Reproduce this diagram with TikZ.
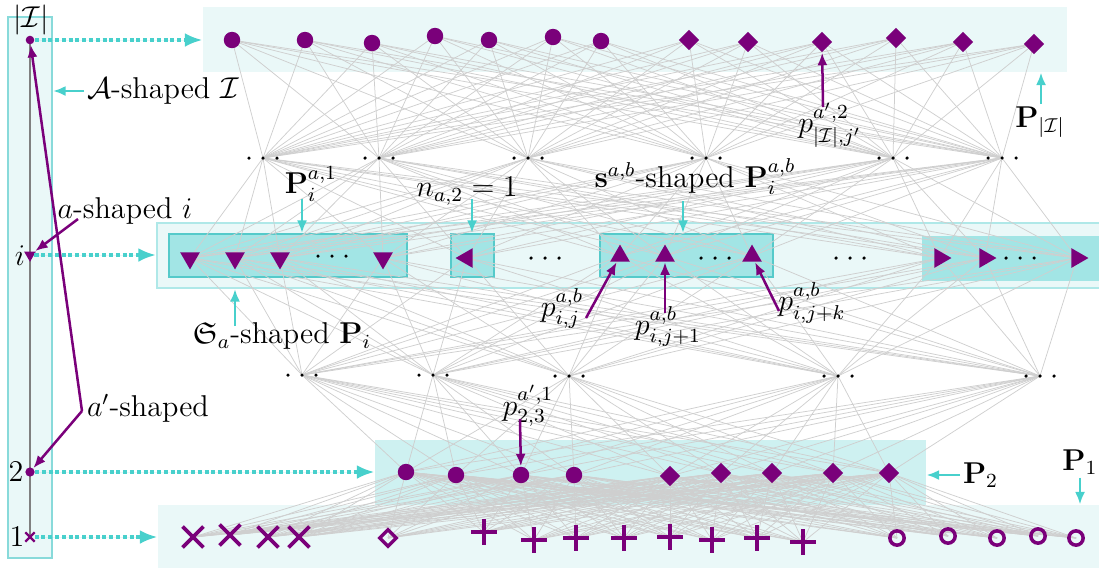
\documentclass[tikz,border=0pt]{standalone}
\usepackage{amsmath}
\usepackage{amssymb}
\usepackage{tikz}
\usetikzlibrary{arrows.meta,positioning,shapes.geometric,shapes.misc,fit,calc}
\definecolor{mkpurple} {RGB}{122,  0,122}
\definecolor{tealarr}  {RGB}{ 72,208,204}
\definecolor{rowlight} {RGB}{234,248,248}
\definecolor{rowmid}   {RGB}{206,241,241}
\definecolor{rowdark}  {RGB}{162,229,229}
\definecolor{bordark}  {RGB}{ 85,202,202}
\definecolor{borlight} {RGB}{175,232,232}
\pgfdeclarelayer{bg}
\pgfdeclarelayer{mid}
\pgfsetlayers{bg,mid,main}
\tikzset{
  mkcirc/.style={circle,fill=mkpurple,inner sep=0pt,minimum size=0.23cm},
  mkdiam/.style={diamond,fill=mkpurple,inner sep=0pt,minimum size=0.29cm},
  mktri/.style={regular polygon,regular polygon sides=3,fill=mkpurple,
                inner sep=0pt,minimum size=0.32cm},
  mkdown/.style={mktri,shape border rotate=180},
  mkleft/.style={mktri,shape border rotate=90},
  mkright/.style={mktri,shape border rotate=-90},
  mkup/.style={mktri},
  mkcross/.style={cross out,draw=mkpurple,line width=1.5pt,inner sep=0pt,
                  minimum size=0.24cm},
  mkplus/.style={mkcross,rotate=45,minimum size=0.2cm},
  mkodiam/.style={diamond,draw=mkpurple,line width=1.3pt,inner sep=0pt,
                  minimum size=0.25cm},
  mkocirc/.style={circle,draw=mkpurple,line width=1.4pt,inner sep=0pt,
                  minimum size=0.2cm},
  dotn/.style={circle,fill=black,inner sep=0pt,minimum size=1.4pt},
  lnk/.style={draw=gray!38,line width=0.3pt},
  axline/.style={draw=gray,line width=0.8pt},
  lightbox/.style={fill=rowlight,inner sep=0pt},
  midbox/.style={fill=rowmid,inner sep=0pt},
  darkbox/.style={fill=rowdark,draw=bordark,line width=0.8pt,inner sep=0pt},
  lbl/.style={font=\large,inner sep=1pt},
  tarr/.style={-{Latex[length=5pt,width=4pt]},line width=1pt,draw=tealarr},
  parr/.style={-{Latex[length=5pt,width=4pt]},line width=1pt,draw=mkpurple},
  dotarr/.style={-{Latex[length=7pt,width=5.5pt]},line width=1.3pt,
                 draw=tealarr,fill=tealarr,dash pattern=on 1.6pt off 1.1pt},
}
\begin{document}
\begin{tikzpicture}[x=0.014cm,y=-0.014cm]
  \useasboundingbox (0,0) rectangle (1099,572);

  % layer boxes
  \begin{pgfonlayer}{bg}
    \node[lightbox,draw=bordark!70,line width=0.8pt,fit={(8,17) (52,558)}] (boxAx) {};
    \node[lightbox,fit={(203,7) (1067,72)}] (boxT) {};
    \node[lightbox,draw=borlight,line width=0.8pt,fit={(157,223) (1106,288)}] (boxM) {};
    \node[darkbox,fit={(169,234) (407,277)}] (boxM1) {};
    \node[darkbox,fit={(451,234) (494,277)}] (boxM2) {};
    \node[darkbox,fit={(600,234) (773,277)}] (boxM3) {};
    \node[fill=rowdark,inner sep=0pt,fit={(922,236) (1106,281)}] (boxM4) {};
    \node[lightbox,fit={(158,505) (1106,568)}] (boxB1) {};
    \node[midbox,fit={(375,440) (926,505)}] (boxB2) {};
  \end{pgfonlayer}

  % top layer
  \foreach \n/\x/\y in {T1/232/40,T2/305/40,T3/372/43,T4/435/36,
                        T5/489/40,T6/553/37,T7/601/41}
    \node[mkcirc] (\n) at (\x,\y) {};
  \foreach \n/\x/\y in {T8/689/40,T9/748/42,T10/822/42,T11/896/38,
                        T12/963/42,T13/1034/44}
    \node[mkdiam] (\n) at (\x,\y) {};

  % elided layers
  \foreach \n/\x/\y in {U1/263/158,U2/379/158,U3/528/158,U4/706/158,
                        U5/893/158,U6/1002/158,
                        L1/302/375,L2/433/375,L3/569/376,L4/838/376,L5/1040/376,
                        Md1/332/256,Md2/545/258,Md3/715/258,Md4/850/258,Md5/1020/258}{
    \node[dotn] (\n) at (\x,\y) {};
    \fill (\x-14,\y) circle[radius=0.7pt] (\x+14,\y) circle[radius=0.7pt];
  }

  % layer i
  \foreach \n/\x in {M1/190,M2/235,M3/280,M4/383}
    \node[mkdown] (\n) at (\x,258) {};
  \node[mkleft] (M5) at (467,258) {};
  \foreach \n/\x in {M6/620,M7/665,M8/752}
    \node[mkup] (\n) at (\x,256) {};
  \foreach \n/\x in {M9/940,M10/985,M11/1077}
    \node[mkright] (\n) at (\x,258) {};

  % layer 2
  \foreach \n/\x/\y in {B1/406/472,B2/456/475,B3/521/475,B4/574/475}
    \node[mkcirc] (\n) at (\x,\y) {};
  \foreach \n/\x/\y in {B5/670/476,B6/721/473,B7/772/473,B8/833/473,B9/889/473}
    \node[mkdiam] (\n) at (\x,\y) {};

  % layer 1
  \foreach \n/\x/\y in {C1/193/537,C2/230/535,C3/268/537,C4/299/537}
    \node[mkcross] (\n) at (\x,\y) {};
  \node[mkodiam] (C5) at (388,538) {};
  \foreach \n/\x/\y in {C6/484/532,C7/534/540,C8/576/538,C9/624/538,
                        C10/670/537,C11/712/540,C12/757/538,C13/803/542}
    \node[mkplus] (\n) at (\x,\y) {};
  \foreach \n/\x/\y in {C14/897/538,C15/948/536,C16/997/538,C17/1038/536,C18/1076/538}
    \node[mkocirc] (\n) at (\x,\y) {};

  % connections
  \begin{pgfonlayer}{mid}
    \foreach \a in {1,...,13}
      \foreach \b in {1,...,6}
        \draw[lnk] (T\a.center) -- (U\b.center);
    \foreach \a in {1,...,6}
      \foreach \b in {1,...,11}
        \draw[lnk] (U\a.center) -- (M\b.center);
    \foreach \a in {1,...,11}
      \foreach \b in {1,...,5}
        \draw[lnk] (M\a.center) -- (L\b.center);
    \foreach \a in {1,...,5}
      \foreach \b in {1,...,9}
        \draw[lnk] (L\a.center) -- (B\b.center);
    \foreach \a in {1,...,9}
      \foreach \b in {1,...,18}
        \draw[lnk] (B\a.center) -- (C\b.center);
  \end{pgfonlayer}

  % index axis
  \node[mkcirc,minimum size=0.12cm] (axI) at (30,40) {};
  \node[mkdown,minimum size=0.19cm] (axi) at (30,255) {};
  \node[mkcirc,minimum size=0.13cm] (ax2) at (30,472) {};
  \node[mkcross,minimum size=0.1cm,line width=0.9pt] (ax1) at (30,537) {};
  \begin{pgfonlayer}{mid}
    \draw[axline] (axI.center) -- (ax1.center);
  \end{pgfonlayer}
  \node[lbl] (tI) at (31,20) {$|\mathcal{I}|$};
  \node[lbl] (ti) at (20,256) {$i$};
  \node[lbl] (t2) at (16,472) {$2$};
  \node[lbl] (t1) at (17,537) {$1$};

  \draw[dotarr] (axI.east) -- (axI -| boxT.west);
  \draw[dotarr] (axi.east) -- (axi -| boxM.west);
  \draw[dotarr] (ax2.east) -- (ax2 -| boxB2.west);
  \draw[dotarr] (ax1.east) -- (ax1 -| boxB1.west);

  % annotations
  \node[lbl,anchor=west] (lAI) at (84,91) {$\mathcal{A}$-shaped $\mathcal{I}$};
  \draw[tarr] (lAI.west) -- (lAI.west -| boxAx.east);

  \node[lbl] (lai) at (125,211) {$a$-shaped $i$};
  \coordinate (ai0) at (78,219);
  \draw[parr] (ai0) -- (axi);

  \node[lbl,anchor=west] (lap) at (84,408) {$a'$-shaped};
  \coordinate (ap0) at (82,411);
  \draw[parr] (ap0) -- (axI);
  \draw[parr] (ap0) -- (ax2);

  \node[lbl] (lSa) at (282,336) {$\mathfrak{S}_a$-shaped $\mathbf{P}_i$};
  \coordinate (sa0) at (235,326);
  \draw[tarr] (sa0) -- (sa0 |- boxM.south);

  \node[lbl] (lPa) at (311,184) {$\mathbf{P}_i^{a,1}$};
  \coordinate (pa0) at (302,199);
  \draw[tarr] (pa0) -- (pa0 |- boxM1.north);

  \node[lbl] (lna) at (467,191) {$n_{a,2}=1$};
  \coordinate (na0) at (472,199);
  \draw[tarr] (na0) -- (na0 |- boxM2.north);

  \node[lbl] (lsab) at (695,177) {$\mathbf{s}^{a,b}$-shaped $\mathbf{P}_i^{a,b}$};
  \coordinate (sb0) at (683,201);
  \draw[tarr] (sb0) -- (sb0 |- boxM3.north);

  \node[lbl] (lpij) at (562,308) {$p^{a,b}_{i,j}$};
  \coordinate (pj0) at (586,318);
  \draw[parr] (pj0) -- (M6);

  \node[lbl] (lpij1) at (668,326) {$p^{a,b}_{i,j+1}$};
  \coordinate (pj1) at (665,313);
  \draw[parr] (pj1) -- (M7);

  \node[lbl] (lpijk) at (812,303) {$p^{a,b}_{i,j+k}$};
  \coordinate (pjk) at (779,311);
  \draw[parr] (pjk) -- (M8);

  \node[lbl] (lpIj) at (830,125) {$p^{a',2}_{|\mathcal{I}|,j'}$};
  \coordinate (pI0) at (823,107);
  \draw[parr] (pI0) -- (T10);

  \node[lbl] (lPI) at (1040,122) {$\mathbf{P}_{|\mathcal{I}|}$};
  \coordinate (PI0) at (1041,104);
  \draw[tarr] (PI0) -- (PI0 |- boxT.south);

  \node[lbl] (lp23) at (528,406) {$p^{a',1}_{2,3}$};
  \coordinate (p230) at (520,419);
  \draw[parr] (p230) -- (B3);

  \node[lbl,anchor=west] (lP2) at (960,475) {$\mathbf{P}_2$};
  \draw[tarr] (lP2.west) -- (lP2.west -| boxB2.east);

  \node[lbl] (lP1) at (1080,462) {$\mathbf{P}_1$};
  \draw[tarr] (lP1.south) -- (lP1.south |- boxB1.north);
\end{tikzpicture}
\end{document}
